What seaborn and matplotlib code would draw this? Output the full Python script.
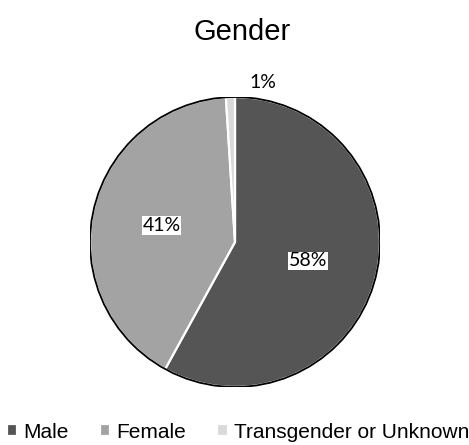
import matplotlib
matplotlib.use("Agg")
import matplotlib.pyplot as plt
import seaborn as sns

# --- data ---
categories = ["Male", "Female", "Transgender or Unknown"]
shares = [58, 41, 1]
slice_colors = ["#555555", "#a3a3a3", "#d9d9d9"]

sns.set_theme(style="white")
plt.rcParams["font.family"] = ["Liberation Sans", "DejaVu Sans"]
plt.rcParams["text.color"] = "black"

W, H = 469, 445
fig = plt.figure(figsize=(W / 100, H / 100), dpi=100)

# pie centre ~ (235, 242) px, radius ~145 px
cx, cy, r = 235, 242, 145
ax = fig.add_axes([(cx - r) / W, (H - cy - r) / H, 2 * r / W, 2 * r / H])

wedges, texts, autotexts = ax.pie(
    shares,
    colors=slice_colors,
    startangle=90,
    counterclock=False,
    autopct="%d%%",
    pctdistance=0.52,
    wedgeprops=dict(edgecolor="white", linewidth=1.6),
    textprops=dict(family=["Lato", "DejaVu Sans"], fontsize=14, color="black"),
)
ax.add_patch(plt.Circle((0, 0), 1, fill=False, edgecolor="black", linewidth=1.3))
ax.set_xlim(-1, 1)
ax.set_ylim(-1, 1)
ax.set_aspect("equal", adjustable="box")
ax.axis("off")

# label boxes like the original
for t in autotexts[:2]:
    t.set_bbox(dict(facecolor="white", edgecolor="none", pad=0.4))
# 1% sits above the rim, a bit to the right
autotexts[2].set_position((0.19, 1.10))

fig.text(242 / W, 1 - 32 / H, "Gender", ha="center", va="center", fontsize=21, color="black")

leg = fig.legend(
    wedges, categories,
    loc="center", bbox_to_anchor=(238 / W, 1 - 432 / H),
    ncol=3, frameon=False, fontsize=15,
    handlelength=0.5, handleheight=0.5, handletextpad=0.3,
    columnspacing=1.5,
)
for t in leg.get_texts():
    t.set_color("black")

fig.savefig("out.png", dpi=100)
